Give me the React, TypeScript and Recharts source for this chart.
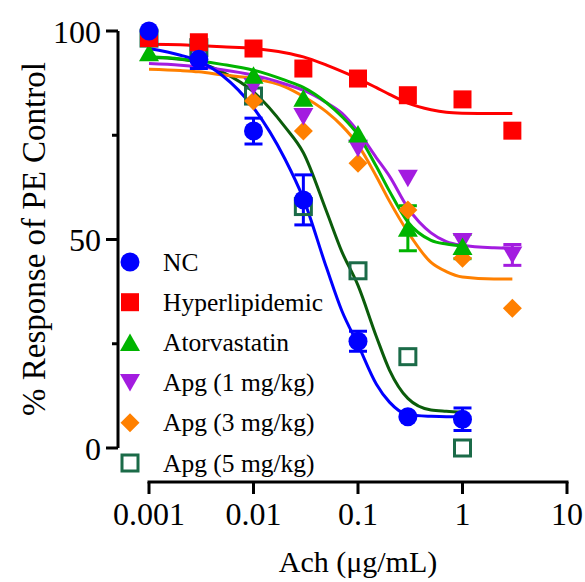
import React from 'react';
import { ComposedChart, Line, Scatter, XAxis, YAxis, ErrorBar, Legend } from 'recharts';

// ---- axis ticks ----
const X_TICKS = [0.001, 0.01, 0.1, 1, 10];
const X_TICK_LABELS = ['0.001', '0.01', '0.1', '1', '10'];
const Y_TICKS = [0, 25, 50, 75, 100];
const Y_TICK_LABELS = ['0', '', '50', '', '100'];

// ---- doses (x of measured points) ----
const DOSES = [0.001, 0.003, 0.01, 0.03, 0.1, 0.3, 1, 3];

// ---- measured means (null = not plotted) ----
const NC_Y = [100, 93.2, 76, 59.5, 25.6, 7.5, 6.9, null];
const NC_ERR = [null, 2.2, 3.1, 6, 2.4, null, 2.7, null];
const HYPER_Y = [98.3, 97.3, 95.8, 91.0, 88.6, 84.6, 83.6, 76.1];
const ATOR_Y = [94.8, null, 89.4, 83.9, 75.3, 52.7, 48.3, null];
const ATOR_ERR = [null, null, null, null, null, 5.4, 2.9, null];
const APG1_Y = [null, null, 86.7, 79.5, 71.9, 64.7, 49.5, 46.3];
const APG1_ERR = [null, null, null, null, null, null, null, 2.5];
const APG3_Y = [null, null, 83.2, 76.0, 68.3, 57.1, 45.5, 33.5];
const APG5_Y = [98.3, 96.0, 84.4, 57.9, 42.5, 21.9, 0, null];

// ---- fitted curves ----
const FIT_X = [0.001, 0.002, 0.003, 0.005, 0.01, 0.02, 0.03, 0.05, 0.07, 0.1, 0.15, 0.2, 0.3, 0.5, 0.7, 1, 2, 3];
const NC_FIT = [95.8, 94.2, 92.8, 89.4, 81.6, 69.3, 59.8, 43.2, 32.9, 24.8, 15.3, 11.0, 8.0, 7.6, 7.5, 7.5];
const HYPER_FIT = [96.8, 96.7, 96.5, 96.2, 95.8, 94.8, 93.8, 91.8, 90.3, 88.6, 86.4, 84.8, 82.7, 81.1, 80.5, 80.3, 80.2, 80.2];
const ATOR_FIT = [93.8, 93.3, 92.8, 92.0, 90.6, 88.2, 86.5, 82.8, 79.5, 75.1, 67.5, 61.6, 54.2, 49.8, 48.9, 48.4];
const APG1_FIT = [92.2, 91.8, 91.4, 90.7, 89.4, 87.3, 85.8, 82.8, 80.3, 75.9, 69.6, 65.2, 57.6, 51.6, 49.5, 48.6, 48.0, 47.9];
const APG3_FIT = [90.8, 90.5, 90.2, 89.5, 88.6, 86.6, 84.3, 80.6, 77.3, 72.7, 65.1, 59.2, 51.8, 44.5, 42.3, 41.0, 40.5, 40.5];
const APG5_FIT = [93.7, 93.2, 92.4, 90.2, 85.4, 77.0, 70.8, 56.7, 47.1, 39.0, 26.7, 18.7, 11.9, 9.1, 8.8, 8.6];

const NAMES = ['NC', 'Hyperlipidemic', 'Atorvastatin', 'Apg (1 mg/kg)', 'Apg (3 mg/kg)', 'Apg (5 mg/kg)'];

// ---- layout / style ----
const W = 585;
const H = 582;
const AXIS_X = 118;
const AXIS_Y = 482;
const PLOT_RIGHT = 567;
const FONT = '"Liberation Serif", "Times New Roman", serif';

const toPoints = (ys: (number | null)[], errs?: (number | null)[]) =>
  DOSES.map((x, i) => ({ x, y: ys[i], err: errs ? errs[i] : null })).filter((p) => p.y != null);
const toCurve = (ys: number[]) => ys.map((y, i) => ({ x: FIT_X[i], y }));

type Shape = 'circle' | 'square' | 'triangle' | 'triangleDown' | 'diamond' | 'openSquare';

const SERIES = [
  { name: NAMES[0], color: '#0000FF', line: '#0000FF', shape: 'circle' as Shape, points: toPoints(NC_Y, NC_ERR), curve: toCurve(NC_FIT) },
  { name: NAMES[1], color: '#FF0000', line: '#FF0000', shape: 'square' as Shape, points: toPoints(HYPER_Y), curve: toCurve(HYPER_FIT) },
  { name: NAMES[2], color: '#00B400', line: '#00B400', shape: 'triangle' as Shape, points: toPoints(ATOR_Y, ATOR_ERR), curve: toCurve(ATOR_FIT) },
  { name: NAMES[3], color: '#A31CE0', line: '#A31CE0', shape: 'triangleDown' as Shape, points: toPoints(APG1_Y, APG1_ERR), curve: toCurve(APG1_FIT) },
  { name: NAMES[4], color: '#FF8000', line: '#FF8000', shape: 'diamond' as Shape, points: toPoints(APG3_Y), curve: toCurve(APG3_FIT) },
  { name: NAMES[5], color: '#1B6B48', line: '#0B5C0B', shape: 'openSquare' as Shape, points: toPoints(APG5_Y), curve: toCurve(APG5_FIT) },
];

function Marker({ shape, cx, cy, color }: { shape: Shape; cx: number; cy: number; color: string }) {
  if (cx == null || cy == null || isNaN(cx) || isNaN(cy)) return null;
  switch (shape) {
    case 'circle':
      return <circle cx={cx} cy={cy} r={9.5} fill={color} />;
    case 'square':
      return <rect x={cx - 9} y={cy - 9} width={18} height={18} fill={color} />;
    case 'triangle':
      return <path d={`M${cx},${cy - 9} L${cx + 10},${cy + 8.5} L${cx - 10},${cy + 8.5} Z`} fill={color} />;
    case 'triangleDown':
      return <path d={`M${cx - 10},${cy - 8.5} L${cx + 10},${cy - 8.5} L${cx},${cy + 9} Z`} fill={color} />;
    case 'diamond':
      return <path d={`M${cx},${cy - 9.5} L${cx + 9.5},${cy} L${cx},${cy + 9.5} L${cx - 9.5},${cy} Z`} fill={color} />;
    case 'openSquare':
      return <rect x={cx - 8} y={cy - 8} width={16} height={16} fill="none" stroke={color} strokeWidth={3} />;
  }
  return null;
}

const XTick = (props: any) => {
  const { x, index } = props;
  return (
    <g>
      {index === 0 && (
        <line x1={x - 1.5} y1={AXIS_Y} x2={PLOT_RIGHT + 1.5} y2={AXIS_Y} stroke="#000" strokeWidth={3} />
      )}
      <line x1={x} y1={AXIS_Y} x2={x} y2={AXIS_Y + 12} stroke="#000" strokeWidth={3} />
      <text x={x} y={525} textAnchor="middle" fontSize={32} fontFamily={FONT} fill="#000">
        {X_TICK_LABELS[index]}
      </text>
    </g>
  );
};

const YTick = (props: any) => {
  const { y, index } = props;
  const label = Y_TICK_LABELS[index];
  const major = label !== '';
  return (
    <g>
      <line x1={AXIS_X - (major ? 12 : 6)} y1={y} x2={AXIS_X} y2={y} stroke="#000" strokeWidth={3} />
      {major && (
        <text x={101} y={y + 11.5} textAnchor="end" fontSize={32} fontFamily={FONT} fill="#000">
          {label}
        </text>
      )}
    </g>
  );
};

const YTitle = () => (
  <text
    x={45}
    y={239}
    transform="rotate(-90, 45, 239)"
    textAnchor="middle"
    fontSize={33}
    fontFamily={FONT}
    fill="#000"
  >
    % Response of PE Control
  </text>
);

const XTitle = () => (
  <text x={358} y={572} textAnchor="middle" fontSize={30} fontFamily={FONT} fill="#000">
    Ach (μg/mL)
  </text>
);

const LegendBox = () => (
  <svg width={260} height={250} style={{ display: 'block' }}>
    {SERIES.map((s, i) => {
      const cy = 22 + 40.2 * i;
      return (
        <g key={s.name}>
          <Marker shape={s.shape} cx={20} cy={cy} color={s.color} />
          <text x={53} y={cy + 8.5} fontSize={25.5} fontFamily={FONT} fill="#000">
            {s.name}
          </text>
        </g>
      );
    })}
  </svg>
);

export default function App() {
  const reversed = [...SERIES].reverse();
  return (
    <div style={{ position: 'absolute', left: 0, top: 0, width: W, height: H, background: '#fff' }}>
      <ComposedChart width={W} height={H} margin={{ top: 31, right: 18, bottom: 0, left: 0 }}>
        <XAxis
          dataKey="x"
          type="number"
          scale="log"
          domain={[0.001, 10]}
          ticks={X_TICKS}
          padding={{ left: 31, right: 0 }}
          height={134}
          axisLine={false}
          tickLine={false}
          tick={<XTick />}
          interval={0}
          label={<XTitle />}
        />
        <YAxis
          dataKey="y"
          type="number"
          domain={[0, 100]}
          ticks={Y_TICKS}
          width={118}
          axisLine={{ stroke: '#000', strokeWidth: 3 }}
          tickLine={false}
          tick={<YTick />}
          interval={0}
          label={<YTitle />}
        />
        <Legend
          layout="vertical"
          align="center"
          verticalAlign="middle"
          wrapperStyle={{ left: 110, top: 240, width: 260, height: 250 }}
          content={() => <LegendBox />}
        />
        {reversed.map((s) => (
          <Line
            key={'fit-' + s.name}
            data={s.curve}
            dataKey="y"
            type="monotone"
            stroke={s.line}
            strokeWidth={3}
            dot={false}
            activeDot={false}
            isAnimationActive={false}
            legendType="none"
            name={s.name + ' fit'}
          />
        ))}
        {reversed.map((s) => (
          <Scatter
            key={'pts-' + s.name}
            data={s.points}
            dataKey="y"
            name={s.name}
            isAnimationActive={false}
            shape={(p: any) => <Marker shape={s.shape} cx={p.cx} cy={p.cy} color={s.color} />}
          >
            <ErrorBar dataKey="err" direction="y" width={9} strokeWidth={3} stroke={s.color} />
          </Scatter>
        ))}
      </ComposedChart>
    </div>
  );
}
